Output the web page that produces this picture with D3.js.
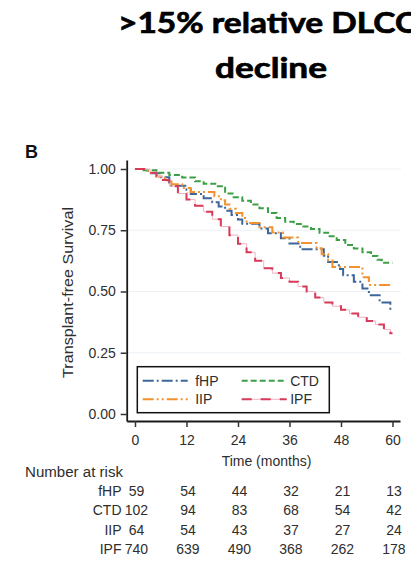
<!doctype html>
<html>
<head>
  <script src="https://cdnjs.cloudflare.com/ajax/libs/d3/7.8.5/d3.min.js" type="text/JavaScript"></script>
  <style>
    body { margin: 0; background: #fff; }
    svg { display: block; }
    text { font-family: "Liberation Sans", Arial, sans-serif; fill: #2e2e2e; }
  </style>
</head>
<body>
  <svg id="chart" width="411" height="563"></svg>
  <script type="text/javascript">
// survival curves (month, survival)
var fhpTime = [0, 3, 6, 8, 12, 13, 16, 18, 19.5, 21, 22.5, 24, 25, 29, 31, 34, 36, 38.5, 44, 45, 47.5, 48.5, 51, 53, 54.5, 57, 59.5, 60];
var fhpSurv = [1, .983, .966, .932, .915, .898, .881, .864, .847, .83, .812, .794, .776, .757, .738, .717, .696, .672, .646, .62, .592, .566, .54, .512, .485, .455, .424, .424];

var ctdTime = [0, 2, 5, 8, 11, 14, 16, 19, 21, 23, 25, 27, 29, 31, 33, 35, 37, 39, 41, 43, 45, 47, 49, 51, 53, 55, 56.5, 57.5, 60];
var ctdSurv = [1, .995, .985, .975, .965, .95, .94, .93, .9, .885, .87, .855, .84, .82, .8, .785, .775, .765, .755, .74, .725, .71, .69, .675, .66, .645, .63, .617, .617];

var iipTime = [0, 3, 5, 7, 8.5, 11, 13, 18.5, 20, 21, 22, 23.5, 25, 26, 29, 32, 34.5, 38, 42.3, 43.5, 45, 46, 53, 54.5, 60];
var iipSurv = [1, .984, .969, .953, .938, .922, .906, .889, .872, .855, .838, .82, .8, .78, .762, .741, .72, .698, .676, .652, .627, .6, .558, .527, .527];

var ipfTime = [0, 3.5, 5, 6.5, 8, 10, 12, 14, 16, 18, 20, 22, 24, 26, 28, 30, 32, 34, 36, 38, 40, 42, 44, 46, 48, 50, 52, 54, 56, 58, 59.5, 60];
var ipfSurv = [1, .985, .97, .955, .93, .9, .875, .85, .825, .795, .765, .73, .695, .66, .625, .595, .575, .555, .54, .52, .5, .475, .455, .44, .425, .41, .395, .38, .365, .345, .33, .33];

var groups = ["fHP", "CTD", "IIP", "IPF"];
var riskTimes = [0, 12, 24, 36, 48, 60];
var fhpRisk = [59, 54, 44, 32, 21, 13];
var ctdRisk = [102, 94, 83, 68, 54, 42];
var iipRisk = [64, 54, 43, 37, 27, 24];
var ipfRisk = [740, 639, 490, 368, 262, 178];
var yTicks = [0, 0.25, 0.5, 0.75, 1];

var series = [
  {name: "fHP", t: fhpTime, s: fhpSurv, risk: fhpRisk, color: "#3d679a", dash: "11,3,2,3"},
  {name: "CTD", t: ctdTime, s: ctdSurv, risk: ctdRisk, color: "#3c9f45", dash: "6,3"},
  {name: "IIP", t: iipTime, s: iipSurv, risk: iipRisk, color: "#f2912e", dash: "11,3,2,3,2,3"},
  {name: "IPF", t: ipfTime, s: ipfSurv, risk: ipfRisk, color: "#d83a5a", dash: "10,9"}
];

var svg = d3.select("#chart");

// title
svg.append("text").attr("x", 118).attr("y", 33)
  .attr("textLength", 304).attr("lengthAdjust", "spacingAndGlyphs")
  .style("font-family", "Lato, 'Open Sans', sans-serif").style("font-weight", "bold")
  .style("font-size", "29px").style("fill", "#000")
  .style("stroke", "#000").style("stroke-width", 0.7)
  .text(">15% relative DLCO");
svg.append("text").attr("x", 215).attr("y", 78)
  .attr("textLength", 112).attr("lengthAdjust", "spacingAndGlyphs")
  .style("font-family", "Lato, 'Open Sans', sans-serif").style("font-weight", "bold")
  .style("font-size", "29px").style("fill", "#000")
  .style("stroke", "#000").style("stroke-width", 0.7)
  .text("decline");

svg.append("text").attr("x", 25).attr("y", 158)
  .style("font-weight", "bold").style("font-size", "18px").style("fill", "#111")
  .text("B");

// scales (ggplot-ish expansion so 0 and 60 / 0 and 1 sit inside the axes)
var x = d3.scaleLinear().domain([-1.93, 61.75]).range([126.7, 400]);
var y = d3.scaleLinear().domain([-0.0286, 1.0367]).range([421, 160]);

// grid
svg.append("g").selectAll("line")
  .data(yTicks.filter(d => d > 0))
  .enter().append("line")
  .attr("x1", 127).attr("x2", 401)
  .attr("y1", d => y(d)).attr("y2", d => y(d))
  .style("stroke", "#eef2f6").style("stroke-width", 1.2);

// curves
var line = d3.line()
  .x(d => x(d[0]))
  .y(d => y(d[1]))
  .curve(d3.curveStepAfter);

var curves = svg.append("g");
series.forEach(sr => {
  var pts = sr.t.map((t, i) => [t, sr.s[i]]);
  if (sr.name == "IPF") {
    curves.append("path").datum(pts).attr("d", line)
      .style("fill", "none").style("stroke", "#f1b3c2").style("stroke-width", 1);
  }
  curves.append("path").datum(pts).attr("d", line)
    .style("fill", "none").style("stroke", sr.color)
    .style("stroke-width", 2).style("stroke-dasharray", sr.dash);
});

// axes
var yAxis = svg.append("g").attr("transform", "translate(126.7,0)")
  .call(d3.axisLeft(y).tickValues(yTicks).tickFormat(d3.format(".2f")).tickSize(6).tickSizeOuter(0).tickPadding(5));
var xAxis = svg.append("g").attr("transform", "translate(0,421)")
  .call(d3.axisBottom(x).tickValues(riskTimes).tickSize(6).tickSizeOuter(0).tickPadding(8));
[yAxis, xAxis].forEach(a => {
  a.select(".domain").style("stroke", "#1a1a1a").style("stroke-width", 1.8);
  a.selectAll(".tick line").style("stroke", "#333").style("stroke-width", 1.5);
  a.selectAll(".tick text").style("font-size", "14px").style("fill", "#2e2e2e")
    .style("font-family", "'Liberation Sans', Arial, sans-serif");
});

svg.append("text")
  .attr("transform", "translate(73,292.5) rotate(-90)")
  .attr("text-anchor", "middle").attr("textLength", 171).attr("lengthAdjust", "spacingAndGlyphs")
  .style("font-size", "14px")
  .text("Transplant-free Survival");
svg.append("text").attr("x", 266.5).attr("y", 466)
  .attr("text-anchor", "middle").style("font-size", "14px")
  .text("Time (months)");

// legend
var lg = svg.append("g");
lg.append("rect").attr("x", 137.3).attr("y", 366.7).attr("width", 192).attr("height", 46)
  .style("fill", "#fff").style("stroke", "#111").style("stroke-width", 1.5);
var legendPos = [[142.7, 380.7], [241.7, 380.7], [142.7, 399.3], [241.7, 399.3]];
groups.forEach((name, i) => {
  var sr = series.find(s => s.name == name);
  var p = legendPos[i];
  if (name == "IPF") {
    lg.append("line").attr("x1", p[0]).attr("x2", p[0] + 45).attr("y1", p[1]).attr("y2", p[1])
      .style("stroke", "#f1b3c2").style("stroke-width", 1);
  }
  lg.append("line").attr("x1", p[0]).attr("x2", p[0] + 45).attr("y1", p[1]).attr("y2", p[1])
    .style("stroke", sr.color).style("stroke-width", 2).style("stroke-dasharray", sr.dash);
  lg.append("text").attr("x", p[0] + (i % 2 ? 48.5 : 52.5)).attr("y", p[1] + 5)
    .style("font-size", "14px").text(name);
});

// number at risk table
svg.append("text").attr("x", 25).attr("y", 477)
  .attr("textLength", 98).attr("lengthAdjust", "spacingAndGlyphs")
  .style("font-size", "14px").text("Number at risk");
series.forEach((sr, r) => {
  var yy = 496 + r * 19.3;
  svg.append("text").attr("x", 121.5).attr("y", yy)
    .attr("text-anchor", "end").style("font-size", "14px").text(sr.name);
  svg.append("g").selectAll("text")
    .data(sr.risk)
    .enter().append("text")
    .attr("x", (d, i) => x(riskTimes[i]) + 1.5)
    .attr("y", yy)
    .attr("text-anchor", "middle").style("font-size", "14px")
    .text(d => d);
});
  </script>
</body>
</html>
